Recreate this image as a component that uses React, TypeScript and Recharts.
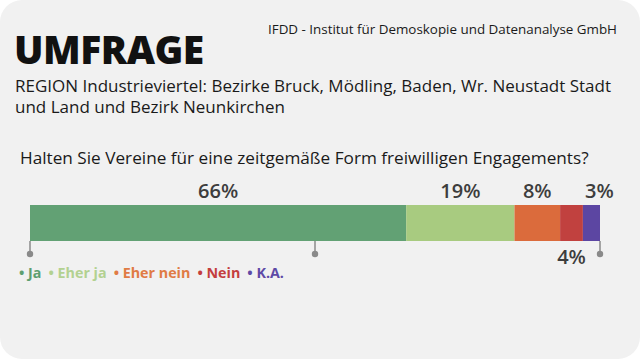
import React from 'react';
import { BarChart, Bar, XAxis, YAxis, LabelList } from 'recharts';

const categories = ['Ja', 'Eher ja', 'Eher nein', 'Nein', 'K.A.'];
const values = [66, 19, 8, 4, 3];
const barColors = ['#62a174', '#a8cb80', '#db6b3c', '#c1413f', '#5c46a2'];
const legendColors = ['#5e9f70', '#b3d191', '#e07b45', '#c43e3e', '#5e4aa6'];
const axisTicks = [0, 50, 100];

const row: Record<string, number | string> = { name: 'Frage' };
categories.forEach((c, i) => {
  row[c] = values[i];
});
const data = [row];

const font = '"Open Sans", sans-serif';

const PinTick = (props: any) => {
  const { x, y } = props;
  return (
    <g>
      <line x1={x} y1={y} x2={x} y2={y + 13} stroke="#8a8a8a" strokeWidth={1.5} />
      <circle cx={x} cy={y + 13} r={3.2} fill="#8a8a8a" />
    </g>
  );
};

const pct = (v: any) => `${v}%`;

export default function App() {
  return (
    <div style={{ width: 640, height: 359, background: '#fff', position: 'relative', fontFamily: font }}>
      <style>{`body{margin:0}`}</style>
      <div
        style={{
          position: 'absolute',
          inset: 0,
          background: '#f1f1f1',
          borderRadius: 22,
        }}
      />
      <div style={{ position: 'absolute', left: 14, top: 22, fontSize: 39, fontWeight: 800, color: '#111', letterSpacing: -0.5 }}>
        UMFRAGE
      </div>
      <div style={{ position: 'absolute', left: 268, top: 20, fontSize: 13.4, color: '#1a1a1a', whiteSpace: 'nowrap' }}>
        IFDD - Institut für Demoskopie und Datenanalyse GmbH
      </div>
      <div style={{ position: 'absolute', left: 15, top: 75, width: 612, fontSize: 17, lineHeight: '21px', fontWeight: 500, color: '#1a1a1a' }}>
        REGION Industrieviertel: Bezirke Bruck, Mödling, Baden, Wr. Neustadt Stadt
        <br />
        und Land und Bezirk Neunkirchen
      </div>
      <div style={{ position: 'absolute', left: 20, top: 146, fontSize: 17.2, color: '#1a1a1a', whiteSpace: 'nowrap' }}>
        Halten Sie Vereine für eine zeitgemäße Form freiwilligen Engagements?
      </div>

      <div style={{ position: 'absolute', left: 0, top: 0 }}>
        <BarChart
          width={640}
          height={359}
          data={data}
          layout="vertical"
          barCategoryGap={0}
          margin={{ top: 205, right: 40, bottom: 98, left: 30 }}
        >
          <XAxis
            type="number"
            domain={[0, 100]}
            ticks={axisTicks}
            axisLine={false}
            tickLine={false}
            tickSize={0}
            tickMargin={0}
            height={20}
            tick={<PinTick />}
            interval={0}
          />
          <YAxis type="category" dataKey="name" hide />
          {categories.map((c, i) => (
            <Bar key={c} dataKey={c} stackId="a" fill={barColors[i]} isAnimationActive={false}>
              <LabelList
                dataKey={c}
                position={c === 'Nein' ? 'bottom' : 'top'}
                offset={c === 'Nein' ? 9 : 7}
                dx={c === 'K.A.' ? 8 : 0}
                formatter={pct}
                fill="#3d3d3d"
                fontSize={20}
                fontWeight={600}
                fontFamily={font}
              />
            </Bar>
          ))}
        </BarChart>
      </div>

      <div
        style={{
          position: 'absolute',
          left: 19,
          top: 263,
          fontSize: 14.3,
          fontWeight: 700,
          display: 'flex',
          gap: 7,
          whiteSpace: 'nowrap',
        }}
      >
        {categories.map((c, i) => (
          <span key={c} style={{ color: legendColors[i] }}>
            • {c}
          </span>
        ))}
      </div>
    </div>
  );
}
